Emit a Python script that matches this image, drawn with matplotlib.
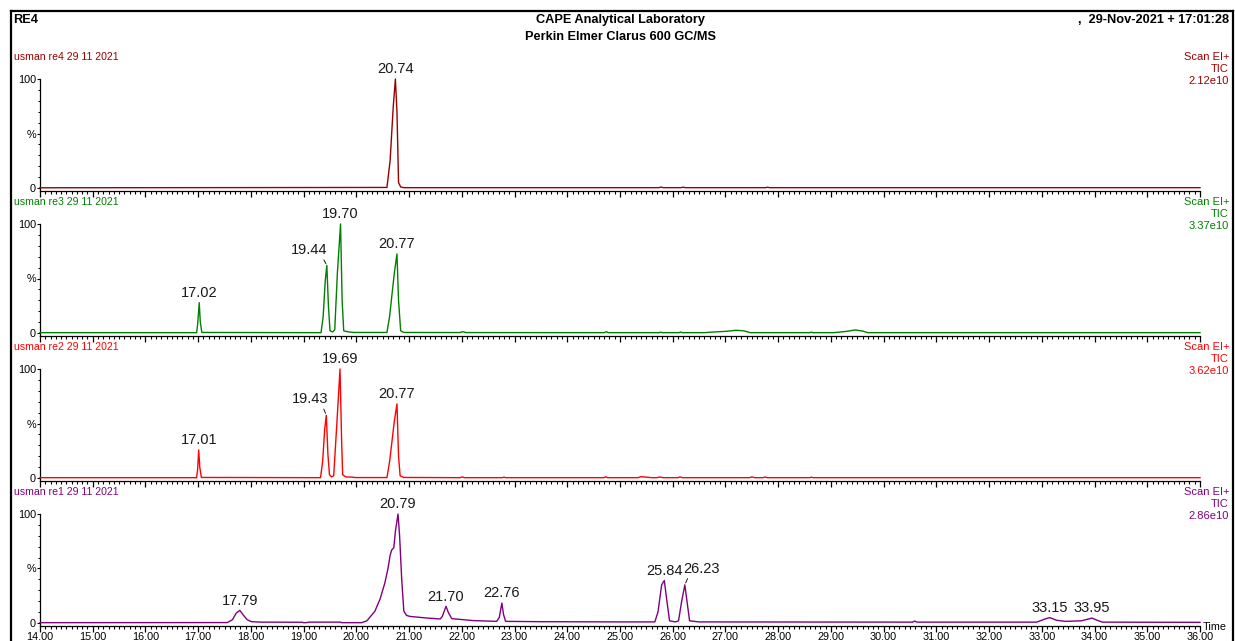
import numpy as np
import matplotlib
matplotlib.use("Agg")
import matplotlib.pyplot as plt
from matplotlib.lines import Line2D
from matplotlib.ticker import MultipleLocator, FormatStrFormatter

plt.rcParams['font.family'] = ['Liberation Sans', 'DejaVu Sans']

# --- Daten ---
run_names = ["usman re4 29 11 2021", "usman re3 29 11 2021",
             "usman re2 29 11 2021", "usman re1 29 11 2021"]
tic_max = ["2.12e10", "3.37e10", "3.62e10", "2.86e10"]

# re4
t_re4 = [14.0, 20.58, 20.64, 20.70, 20.74, 20.77, 20.80, 20.84, 20.90,
         25.74, 25.78, 25.82, 26.16, 26.20, 26.24, 27.76, 27.80, 27.84, 36.0]
y_re4 = [0.2, 0.5, 25, 75, 100, 70, 5, 1, 0.3,
         0.3, 0.9, 0.3, 0.3, 0.8, 0.3, 0.3, 0.7, 0.3, 0.3]

# re3
t_re3 = [14.0, 16.97, 16.99, 17.02, 17.04, 17.07,
         19.33, 19.37, 19.41, 19.44, 19.47, 19.50, 19.55,
         19.59, 19.64, 19.70, 19.73, 19.76, 19.85, 19.95,
         20.58, 20.63, 20.72, 20.77, 20.80, 20.84, 20.90,
         21.96, 22.02, 22.08, 24.70, 24.74, 24.78,
         25.74, 25.77, 25.80, 26.12, 26.15, 26.18,
         26.60, 26.80, 27.00, 27.20, 27.35, 27.47,
         28.60, 28.63, 28.66, 29.05, 29.30, 29.46, 29.60, 29.70, 36.0]
y_re3 = [0.3, 0.3, 8, 27.8, 10, 0.5,
         0.3, 15, 48, 62, 25, 2, 1,
         3, 55, 100, 30, 2, 1, 0.5,
         0.5, 15, 55, 72.5, 30, 2, 0.5,
         0.4, 1.2, 0.4, 0.3, 1.2, 0.3,
         0.3, 0.8, 0.3, 0.3, 0.9, 0.3,
         0.3, 1.0, 1.5, 2.5, 2.0, 0.3,
         0.3, 0.8, 0.3, 0.3, 1.5, 2.8, 1.8, 0.3, 0.3]

# re2
t_re2 = [14.0, 16.97, 16.99, 17.01, 17.03, 17.06,
         19.32, 19.36, 19.40, 19.43, 19.46, 19.49, 19.53,
         19.57, 19.63, 19.69, 19.72, 19.74, 19.80, 19.92, 19.98,
         20.58, 20.63, 20.72, 20.77, 20.80, 20.83, 20.90,
         21.97, 22.01, 22.05, 22.77, 22.80, 22.83,
         24.70, 24.73, 24.76, 25.34, 25.40, 25.50, 25.60,
         25.70, 25.75, 25.82, 26.10, 26.14, 26.18,
         27.46, 27.50, 27.56, 27.71, 27.75, 27.79,
         28.60, 28.63, 28.66, 36.0]
y_re2 = [0.3, 0.3, 8, 25.7, 10, 0.5,
         0.3, 15, 45, 57.5, 22, 3, 1,
         2, 50, 100, 35, 3, 1, 0.8, 0.4,
         0.4, 15, 52, 68, 20, 2, 0.5,
         0.3, 1.0, 0.3, 0.3, 0.8, 0.3,
         0.3, 1.2, 0.3, 0.3, 1.2, 0.8, 0.3,
         0.3, 0.9, 0.3, 0.3, 1.0, 0.3,
         0.3, 1.0, 0.3, 0.3, 0.9, 0.3,
         0.3, 0.8, 0.3, 0.3]

# re1
t_re1 = [14.0, 17.55, 17.65, 17.72, 17.79, 17.86, 17.93, 18.01, 18.20,
         18.97, 19.00, 19.05, 19.10, 19.70, 19.72,
         20.10, 20.20, 20.35, 20.45, 20.54, 20.60, 20.64, 20.67, 20.71, 20.74,
         20.79, 20.82, 20.86, 20.90, 20.95, 21.02, 21.33, 21.59,
         21.63, 21.70, 21.75, 21.81, 22.22, 22.66,
         22.71, 22.76, 22.79, 22.83, 23.50, 25.00,
         25.66, 25.72, 25.79, 25.84, 25.89, 25.94, 26.05,
         26.11, 26.17, 26.23, 26.27, 26.32, 26.50,
         30.55, 30.59, 30.63, 32.90, 33.05, 33.15, 33.28, 33.45,
         33.75, 33.95, 34.05, 34.15, 36.0]
y_re1 = [0.3, 0.4, 3, 9, 11.6, 7, 3, 1.2, 0.8,
         0.7, 0.3, 0.3, 0.8, 0.8, 0.3,
         0.3, 2, 10.7, 22, 36.7, 50, 62, 67, 69, 84,
         100, 80, 40, 11, 7, 6, 4.6, 3.7,
         6, 15.3, 9, 4, 2.2, 1.5,
         5, 18.3, 8, 1.5, 1.2, 1.0,
         1.0, 10, 35, 39, 20, 2, 1.0,
         2, 20, 35, 20, 2, 1.0,
         0.8, 1.8, 0.8, 0.8, 3.5, 5, 2.5, 1.5,
         2, 4.5, 2.5, 0.8, 0.6]

# beschriftete Retentionszeiten
rt_re4 = [20.74]
rt_re3 = [17.02, 19.44, 19.70, 20.77]
rt_re2 = [17.01, 19.43, 19.69, 20.77]
rt_re1 = [17.79, 20.79, 21.70, 22.76, 25.84, 26.23, 33.15, 33.95]

traces = [(t_re4, y_re4, rt_re4), (t_re3, y_re3, rt_re3),
          (t_re2, y_re2, rt_re2), (t_re1, y_re1, rt_re1)]
farben = ["#9a0000", "#008000", "#ff0000", "#800080"]

# Beschriftungen mit Hinweislinie (Versatz in Punkten)
leader = {19.44: (-12.7, 6.0, 0.85), 19.43: (-12.0, 6.5, 0.85),
          26.23: (12.2, 6.5, 0.15)}

W, H = 1235, 641
fig = plt.figure(figsize=(W / 100, H / 100), dpi=100)

# Rahmen (links, oben, rechts)
for xs, ys in [([10.8, 10.8], [H, 10.5]), ([10.8, 1233], [10.5, 10.5]),
               ([1233, 1233], [10.5, H])]:
    fig.add_artist(Line2D([x / W for x in xs], [1 - y / H for y in ys],
                          color="black", lw=1.6))

kopf = dict(fontsize=9.2, fontweight="bold", va="center")
fig.text(13 / W, 1 - 20 / H, "RE4", ha="left", **kopf)
fig.text(621 / W, 1 - 20 / H, "CAPE Analytical Laboratory", ha="center", **kopf)
fig.text(621 / W, 1 - 37 / H, "Perkin Elmer Clarus 600 GC/MS", ha="center", **kopf)
fig.text(1229 / W, 1 - 20 / H, ",  29-Nov-2021 + 17:01:28", ha="right", **kopf)

basis = [188, 333, 478, 623]
ax_l, ax_r = 40, 1200
unten = 2.8  # Achsenlinie liegt etwas unter der Nulllinie (px)

for i, ((t, y, rts), farbe, base) in enumerate(zip(traces, farben, basis)):
    ax = fig.add_axes([ax_l / W, 1 - (base + unten) / H, (ax_r - ax_l) / W,
                       (109 + unten) / H])
    ax.plot(t, y, color=farbe, lw=1.0, clip_on=False, zorder=3)
    ax.set_xlim(14, 36)
    ax.set_ylim(-unten / 1.09, 100)
    for s in ["top", "right"]:
        ax.spines[s].set_visible(False)
    for s in ["left", "bottom"]:
        ax.spines[s].set_linewidth(0.9)

    ax.xaxis.set_major_locator(MultipleLocator(1))
    ax.xaxis.set_minor_locator(MultipleLocator(0.1))
    ax.xaxis.set_major_formatter(FormatStrFormatter("%.2f"))
    ax.tick_params(axis="x", which="major", length=4.0, width=0.9, pad=0.3,
                   labelsize=7.8)
    ax.tick_params(axis="x", which="minor", length=2.4, width=0.8)
    if i < 3:
        ax.tick_params(axis="x", labelbottom=False)

    ax.set_yticks([0, 50, 100])
    ax.set_yticklabels(["0", "%", "100"])
    ax.yaxis.set_minor_locator(MultipleLocator(10))
    ax.tick_params(axis="y", which="major", length=2.5, width=0.8, pad=0.5,
                   labelsize=7.8)
    ax.tick_params(axis="y", which="minor", length=1.6, width=0.7)

    fig.text(13.5 / W, 1 - (base - 131) / H, run_names[i], fontsize=7.6,
             color=farbe, ha="left", va="center")
    for k, txt in enumerate(["Scan EI+", "TIC", tic_max[i]]):
        fig.text(1229 / W, 1 - (base - 131 + 12 * k) / H, txt, fontsize=8.0,
                 color=farbe, ha="right", va="center")

    for rt in rts:
        h = np.interp(rt, t, y)
        if rt in leader:
            dx, dy, rp = leader[rt]
            ax.annotate(f"{rt:.2f}", xy=(rt, h), xytext=(dx, dy),
                        textcoords="offset points", ha="center", va="bottom",
                        fontsize=10.5, color="#1a1a1a", annotation_clip=False,
                        arrowprops=dict(arrowstyle="-", color="#1a1a1a",
                                        lw=0.7, shrinkA=0, shrinkB=1.5,
                                        relpos=(rp, 0.05)))
        else:
            ax.annotate(f"{rt:.2f}", xy=(rt, h), xytext=(0, 2),
                        textcoords="offset points", ha="center", va="bottom",
                        fontsize=10.5, color="#1a1a1a", annotation_clip=False)

    if i == 3:
        ax.annotate("Time", xy=(1, 0), xycoords="axes fraction",
                    xytext=(2, -1), textcoords="offset points",
                    ha="left", va="center", fontsize=7.8)

fig.savefig("out.png", dpi=100)
